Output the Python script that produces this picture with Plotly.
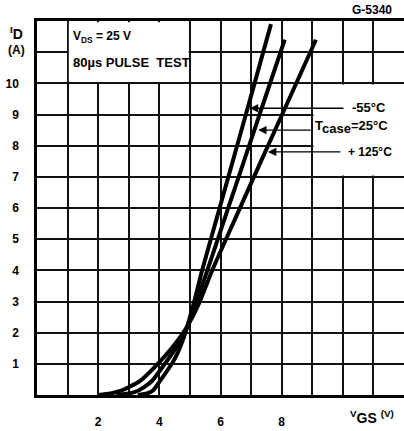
import plotly.graph_objects as go

# 轉移特性曲線 I_D vs V_GS (三個溫度)
vgs_m55 = [3.3, 3.6, 3.8, 4.0, 4.2, 4.41, 4.6, 4.8, 5.1, 5.4, 6.0, 6.6, 7.1, 7.65]
id_m55 = [0.0, 0.05, 0.15, 0.42, 0.7, 1.0, 1.35, 1.85, 2.85, 4.0, 6.1, 8.2, 9.95, 11.9]

vgs_25 = [2.6, 3.0, 3.27, 3.5, 3.76, 4.18, 4.6, 4.9, 5.2, 5.57, 6.2, 6.8, 7.5, 8.1]
id_25 = [0.0, 0.05, 0.12, 0.25, 0.45, 1.0, 1.6, 2.15, 2.95, 4.0, 5.85, 7.6, 9.65, 11.4]

vgs_125 = [2.0, 2.4, 2.7, 3.0, 3.37, 3.95, 4.4, 4.85, 5.3, 5.73, 6.5, 7.3, 8.2, 9.12]
id_125 = [0.0, 0.05, 0.12, 0.25, 0.45, 1.0, 1.5, 2.1, 2.95, 4.0, 5.7, 7.45, 9.4, 11.4]

x_ticks = list(range(0, 13))
x_labels = ["", "", "2", "", "4", "", "6", "", "8", "", "", "", ""]
y_ticks = list(range(0, 13))
y_labels = ["", "1", "2", "3", "4", "5", "6", "7", "8", "9", "10", "", ""]

temp_labels = ["-55°C", "T<sub><span style='font-size:13px'>case</span></sub>=25°C", "+ 125°C"]

FONT = "Liberation Sans"


def f(size, bold=True):
    d = dict(family=FONT, size=size, color="black")
    if bold:
        d["weight"] = "bold"
    return d


fig = go.Figure()
for xs, ys in [(vgs_m55, id_m55), (vgs_25, id_25), (vgs_125, id_125)]:
    fig.add_trace(go.Scatter(
        x=xs, y=ys, mode="lines",
        line=dict(color="black", width=4, shape="spline", smoothing=0.6),
        showlegend=False, hoverinfo="skip"
    ))

# 白色文字框 (蓋住格線)
fig.add_shape(type="rect", x0=1.04, x1=4.96, y0=10.04, y1=11.96,
              fillcolor="white", line=dict(width=0), layer="between")
fig.add_shape(type="rect", x0=9.04, x1=12.0, y0=7.04, y1=9.96,
              fillcolor="white", line=dict(width=0), layer="between")

# 溫度標示的引線
leaders = [(6.96, 9.2, 10.07), (7.23, 8.5, 9.0), (7.55, 7.8, 9.97)]
for tip_x, tip_y, tail_x in leaders:
    fig.add_annotation(x=tip_x, y=tip_y, ax=tail_x, ay=tip_y,
                       xref="x", yref="y", axref="x", ayref="y",
                       text="", showarrow=True, arrowhead=2, arrowsize=1.2,
                       arrowwidth=1.4, arrowcolor="black")

fig.add_annotation(x=10.24, y=9.23, text=temp_labels[0], showarrow=False,
                   xanchor="left", font=f(13))
fig.add_annotation(x=9.0, y=8.6, text=temp_labels[1], showarrow=False,
                   xanchor="left", xshift=1, font=f(13))
fig.add_annotation(x=10.1, y=7.8, text=temp_labels[2], showarrow=False,
                   xanchor="left", font=f(12))

fig.add_annotation(x=1.1, y=11.49, text="V<sub>DS</sub> = 25 V", showarrow=False,
                   xanchor="left", font=f(12))
fig.add_annotation(x=1.1, y=10.68, text="80µs PULSE  TEST", showarrow=False,
                   xanchor="left", font=f(13))

# 圖外的文字 (paper 座標)
outside = [
    (0.913, 1.029, "G-5340", 12),
    (-0.0545, 0.968, "<sup>I</sup>D", 14),
    (-0.0545, 0.922, "(A)", 12),
    (0.913, -0.06, "<sup>V</sup>GS <sup>(V)</sup>", 14),
]
for px, py, txt, size in outside:
    fig.add_annotation(x=px, y=py, xref="paper", yref="paper", text=txt,
                       xanchor="center", yanchor="middle", showarrow=False,
                       font=f(size))

axis_style = dict(
    showgrid=True, gridcolor="#111", gridwidth=1.5,
    showline=True, linecolor="black", linewidth=2.5, mirror=True,
    zeroline=False, ticks="", fixedrange=True, automargin=False,
    tickfont=f(12),
)

fig.update_xaxes(range=[0, 12], tickvals=x_ticks, ticktext=x_labels,
                 ticklabelstandoff=14, **axis_style)
fig.update_yaxes(range=[0, 12], tickvals=y_ticks, ticktext=y_labels,
                 ticklabelstandoff=13, **axis_style)

fig.update_layout(
    width=404, height=431,
    margin=dict(l=37, r=0, t=21, b=36),
    plot_bgcolor="white", paper_bgcolor="white",
)

# 去掉瀏覽器預設的 body 邊距
fig.write_html("out.html", config={"displayModeBar": False},
               post_script="document.body.style.margin='0';")
